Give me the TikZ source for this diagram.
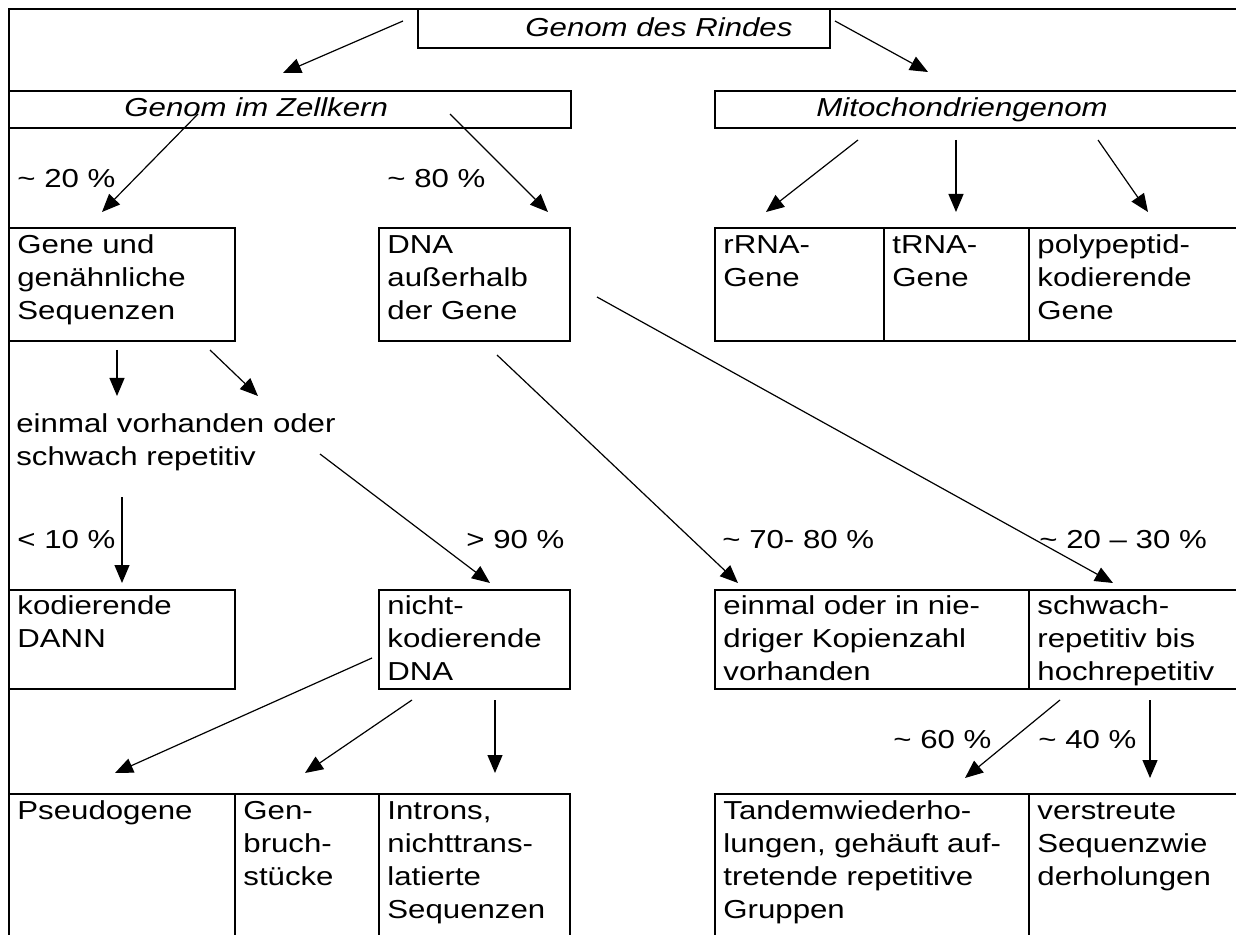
\documentclass[tikz,border=0pt]{standalone}
\usepackage{fontspec}
\setmainfont{Liberation Sans}[FakeStretch=1.2]
\usetikzlibrary{arrows.meta,calc}
\newcommand\firstst{\rule{0pt}{10pt}}
\begin{document}
\begin{tikzpicture}[x=0.5pt,y=-0.5pt,
  box/.style={draw, line width=1pt, rectangle, inner sep=0pt, anchor=north west},
  txt/.style={anchor=north west, inner sep=0pt, align=left, font=\fontsize{13}{16.5}\selectfont},
  lbl/.style={anchor=base west, inner sep=0pt, font=\fontsize{13}{16.5}\selectfont},
  ilbl/.style={lbl, font=\fontsize{13}{16.5}\selectfont\itshape},
  arr/.style={line width=0.6pt, -{Triangle[length=9pt,width=7.5pt]}},
  ]
\useasboundingbox (0,0) rectangle (1236,935);
\clip (0,0) rectangle (1236,935);
% frame
\node[box, minimum width=621pt, minimum height=476pt] (frame) at (8,8) {};
% row 1
\node[box, minimum width=206pt, minimum height=19.5pt] (top) at (417,8) {};
\node[ilbl] (toptxt) at (525,37) {Genom des Rindes};
% row 2
\node[box, minimum width=281pt, minimum height=18.5pt] (zell) at (8,90) {};
\node[ilbl] (zelltxt) at (124,117) {Genom im Zellkern};
\node[box, minimum width=265pt, minimum height=18.5pt] (mito) at (714,90) {};
\node[ilbl] (mitotxt) at (816,117) {Mitochondriengenom};
% row 3
\node[box, minimum width=113pt, minimum height=56.5pt] (gene) at (8,227) {};
\node[box, minimum width=95.5pt, minimum height=56.5pt] (dna) at (378,227) {};
\node[box, minimum width=84.5pt, minimum height=56.5pt] (rrna) at (714,227) {};
\node[box, minimum width=72.5pt, minimum height=56.5pt] (trna) at (883,227) {};
\node[box, minimum width=108pt, minimum height=56.5pt] (poly) at (1028,227) {};
\node[txt] (genet) at ($(gene.north west)+(9,6)$) {\firstst Gene und\\genähnliche\\Sequenzen};
\node[txt] (dnat) at ($(dna.north west)+(9,6)$) {\firstst DNA\\außerhalb\\der Gene};
\node[txt] (rrnat) at ($(rrna.north west)+(9,6)$) {\firstst rRNA-\\Gene};
\node[txt] (trnat) at ($(trna.north west)+(9,6)$) {\firstst tRNA-\\Gene};
\node[txt] (polyt) at ($(poly.north west)+(9,6)$) {\firstst polypeptid-\\kodierende\\Gene};
% middle text
\node[txt] (einv) at (16,412) {\firstst einmal vorhanden oder\\schwach repetitiv};
% row 4
\node[box, minimum width=113pt, minimum height=49.5pt] (kod) at (8,589) {};
\node[box, minimum width=95.5pt, minimum height=49.5pt] (nkod) at (378,589) {};
\node[box, minimum width=157pt, minimum height=49.5pt] (einm) at (714,589) {};
\node[box, minimum width=108pt, minimum height=49.5pt] (schw) at (1028,589) {};
\node[txt] (kodt) at ($(kod.north west)+(9,5)$) {\firstst kodierende\\DANN};
\node[txt] (nkodt) at ($(nkod.north west)+(9,5)$) {\firstst nicht-\\kodierende\\DNA};
\node[txt] (einmt) at ($(einm.north west)+(9,5)$) {\firstst einmal oder in nie-\\driger Kopienzahl\\vorhanden};
\node[txt] (schwt) at ($(schw.north west)+(9,5)$) {\firstst schwach-\\repetitiv bis\\hochrepetitiv};
% row 5
\node[box, minimum width=113pt, minimum height=85pt] (pseu) at (8,793) {};
\node[box, minimum width=72pt, minimum height=85pt] (genb) at (234,793) {};
\node[box, minimum width=95.5pt, minimum height=85pt] (intr) at (378,793) {};
\node[box, minimum width=157pt, minimum height=85pt] (tand) at (714,793) {};
\node[box, minimum width=108pt, minimum height=85pt] (vers) at (1028,793) {};
\node[txt] (pseut) at ($(pseu.north west)+(9,6)$) {\firstst Pseudogene};
\node[txt] (genbt) at ($(genb.north west)+(9,6)$) {\firstst Gen-\\bruch-\\stücke};
\node[txt] (intrt) at ($(intr.north west)+(9,6)$) {\firstst Introns,\\nichttrans-\\latierte\\Sequenzen};
\node[txt] (tandt) at ($(tand.north west)+(9,6)$) {\firstst Tandemwiederho-\\lungen, gehäuft auf-\\tretende repetitive\\Gruppen};
\node[txt] (verst) at ($(vers.north west)+(9,6)$) {\firstst verstreute\\Sequenzwie\\derholungen};
% labels
\node[lbl] (l20) at (17,188) {\textasciitilde{} 20 \%};
\node[lbl] (l80) at (387,188) {\textasciitilde{} 80 \%};
\node[lbl] (l10) at (17,548) {< 10 \%};
\node[lbl] (l90) at (466,548) {> 90 \%};
\node[lbl] (l7080) at (722,548) {\textasciitilde{} 70- 80 \%};
\node[lbl] (l2030) at (1039,548) {\textasciitilde{} 20 – 30 \%};
\node[lbl] (l60) at (893,748) {\textasciitilde{} 60 \%};
\node[lbl] (l40) at (1038,748) {\textasciitilde{} 40 \%};
% arrow coordinates
\coordinate (a1s) at (403,21);   \coordinate (a1e) at (283,73);
\coordinate (a2s) at (835,21);   \coordinate (a2e) at (928,72);
\coordinate (a3s) at (198,114);  \coordinate (a3e) at (102,212);
\coordinate (a4s) at (450,114);  \coordinate (a4e) at (548,212);
\coordinate (a5s) at (858,140);  \coordinate (a5e) at (766,212);
\coordinate (a6s) at (956,140);  \coordinate (a6e) at (956,212);
\coordinate (a7s) at (1098,140); \coordinate (a7e) at (1148,212);
\coordinate (a8s) at (117,350);  \coordinate (a8e) at (117,396);
\coordinate (a9s) at (210,350);  \coordinate (a9e) at (258,396);
\coordinate (a10s) at (320,454); \coordinate (a10e) at (490,583);
\coordinate (a11s) at (122,497); \coordinate (a11e) at (122,583);
\coordinate (a12s) at (497,355); \coordinate (a12e) at (738,583);
\coordinate (a13s) at (597,297); \coordinate (a13e) at (1113,583);
\coordinate (a14s) at (372,658); \coordinate (a14e) at (115,773);
\coordinate (a15s) at (412,700); \coordinate (a15e) at (305,773);
\coordinate (a16s) at (495,700); \coordinate (a16e) at (495,773);
\coordinate (a17s) at (1060,700); \coordinate (a17e) at (965,778);
\coordinate (a18s) at (1150,700); \coordinate (a18e) at (1150,778);
\foreach \i in {1,...,18} { \draw[arr] (a\i s) -- (a\i e); }
\end{tikzpicture}
\end{document}
